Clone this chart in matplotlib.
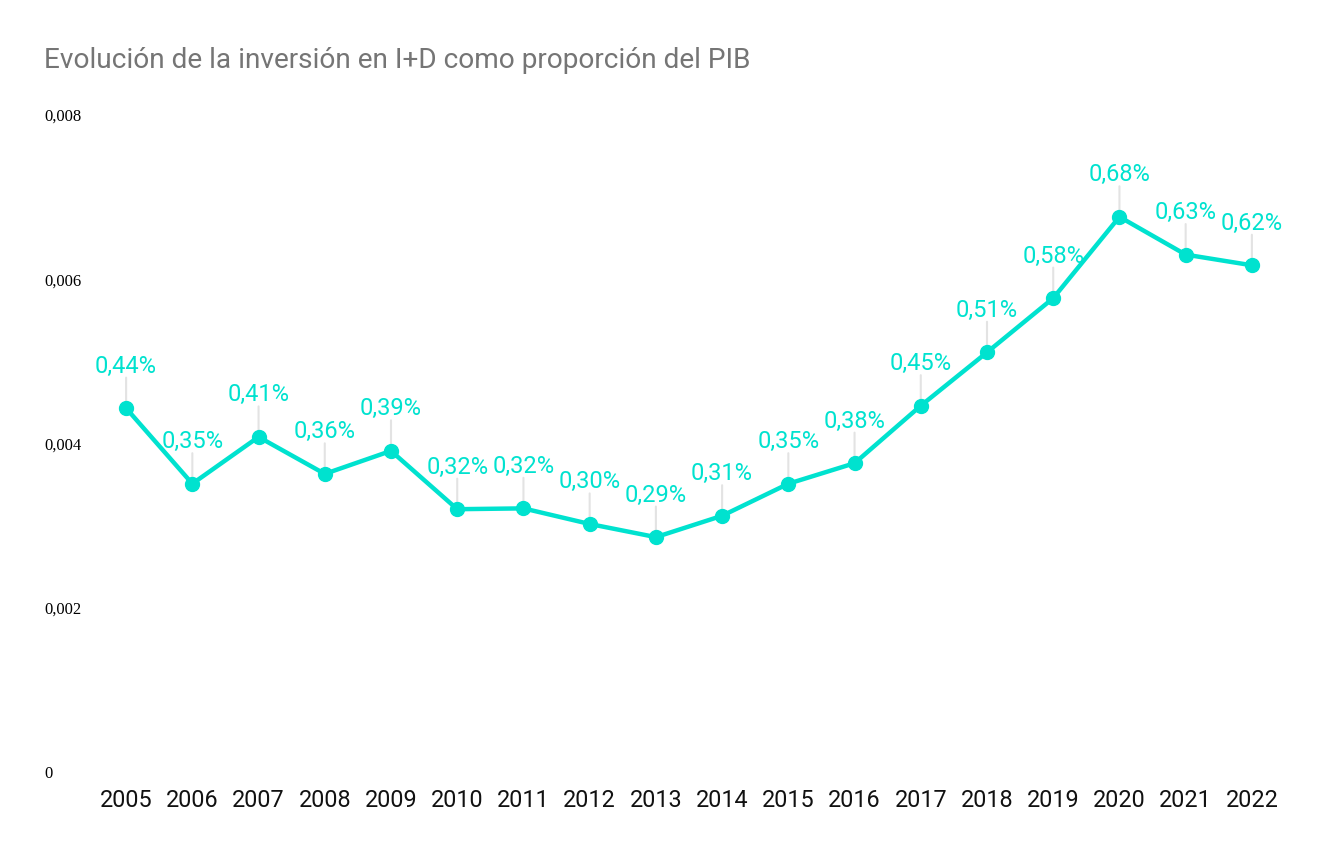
import matplotlib
matplotlib.use("Agg")
import matplotlib.pyplot as plt

# data
years = [2005, 2006, 2007, 2008, 2009, 2010, 2011, 2012, 2013,
         2014, 2015, 2016, 2017, 2018, 2019, 2020, 2021, 2022]
values = [0.00443, 0.00351, 0.00408, 0.00363, 0.00391, 0.00320, 0.00321, 0.00302, 0.00286,
          0.00312, 0.00351, 0.00376, 0.00446, 0.00511, 0.00577, 0.00676, 0.00630, 0.00617]
labels = ["0,44%", "0,35%", "0,41%", "0,36%", "0,39%", "0,32%", "0,32%", "0,30%", "0,29%",
          "0,31%", "0,35%", "0,38%", "0,45%", "0,51%", "0,58%", "0,68%", "0,63%", "0,62%"]
yticks = [0, 0.002, 0.004, 0.006, 0.008]
ytick_labels = ["0", "0,002", "0,004", "0,006", "0,008"]

TEAL = "#00E2CF"
LEADER = "#E3E3E3"

plt.rcParams["font.family"] = ["Roboto", "DejaVu Sans"]
fig = plt.figure(figsize=(13.28, 8.58), dpi=100)
ax = fig.add_axes([93 / 1328, 86 / 858, 1192 / 1328, 657 / 858])

ax.plot(years, values, color=TEAL, lw=3.2, marker="o", ms=10, zorder=3,
        solid_capstyle="round")

for x, y, lab in zip(years, values, labels):
    ax.annotate("", xy=(x, y), xytext=(0, 22), textcoords="offset points",
                arrowprops=dict(arrowstyle="-", color=LEADER, lw=1.5,
                                shrinkA=0, shrinkB=0), zorder=1)
    ax.annotate(lab, xy=(x, y), xytext=(0, 22), textcoords="offset points",
                ha="center", va="bottom", color=TEAL, fontsize=17, zorder=4)

ax.set_xlim(2004.5, 2022.5)
ax.set_ylim(0, 0.008)
ax.set_xticks(years)
ax.set_xticklabels([str(y) for y in years], fontsize=16.8, color="#111111")
ax.set_yticks(yticks)
ax.set_yticklabels(ytick_labels, fontsize=12, family="Liberation Serif", color="black")
for t in ax.get_yticklabels():
    t.set_horizontalalignment("left")
ax.tick_params(axis="y", length=0, pad=(93 - 44) * 0.72)
ax.tick_params(axis="x", length=0, pad=12)
for s in ax.spines.values():
    s.set_visible(False)

fig.text(44 / 1328, 1 - 60 / 858, "Evolución de la inversión en I+D como proporción del PIB",
         fontsize=20.2, color="#757575", ha="left", va="center")

fig.savefig("out.png", dpi=100, facecolor="white")
